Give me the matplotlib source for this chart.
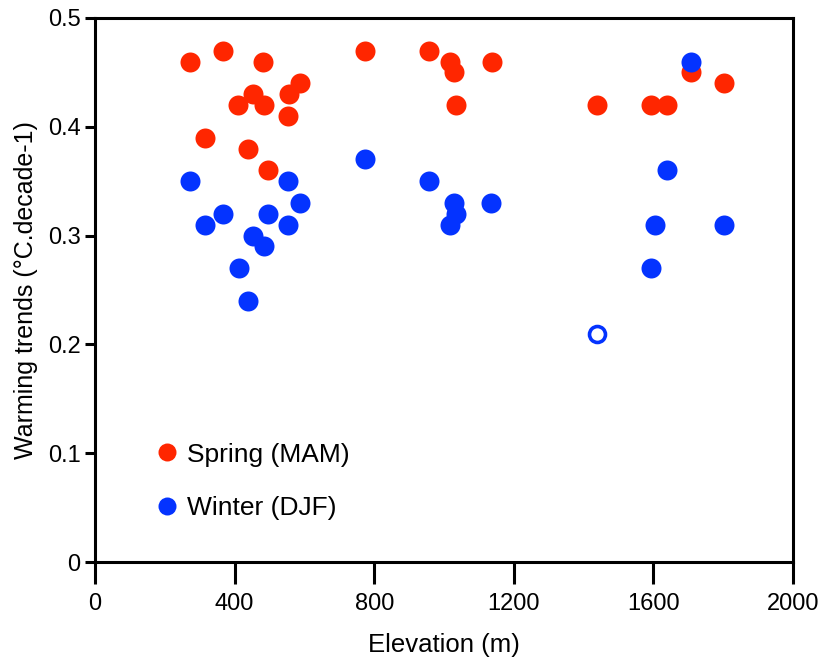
import matplotlib
matplotlib.use("Agg")
import matplotlib.pyplot as plt

plt.rcParams['font.family'] = ['Liberation Sans', 'DejaVu Sans']

# Spring (MAM) warming trends by station elevation
spring_elev = [272, 315, 366, 411, 437, 454, 481, 484, 496, 552, 555, 587,
               774, 957, 1017, 1029, 1034, 1137, 1438, 1592, 1638, 1708, 1803]
spring_trend = [0.46, 0.39, 0.47, 0.42, 0.38, 0.43, 0.46, 0.42, 0.36, 0.41, 0.43, 0.44,
                0.47, 0.47, 0.46, 0.45, 0.42, 0.46, 0.42, 0.42, 0.42, 0.45, 0.44]

# Winter (DJF) warming trends by station elevation
winter_elev = [272, 315, 366, 412, 437, 454, 483, 496, 552, 554, 587,
               774, 957, 1017, 1029, 1034, 1136, 1594, 1605, 1638, 1708, 1803]
winter_trend = [0.35, 0.31, 0.32, 0.27, 0.24, 0.30, 0.29, 0.32, 0.31, 0.35, 0.33,
                0.37, 0.35, 0.31, 0.33, 0.32, 0.33, 0.27, 0.31, 0.36, 0.46, 0.31]

# Winter station shown as an open marker
winter_open_elev = [1437]
winter_open_trend = [0.21]

RED = '#FF2600'
BLUE = '#0433FF'

fig = plt.figure(figsize=(8.23, 6.64), dpi=100)
ax = fig.add_axes([0.1154, 0.1536, 0.8482, 0.8193])

ms = 14.4
ax.plot(spring_elev, spring_trend, 'o', color=RED, markersize=ms,
        markeredgewidth=0, label='Spring (MAM)', zorder=3)
ax.plot(winter_elev, winter_trend, 'o', color=BLUE, markersize=ms,
        markeredgewidth=0, label='Winter (DJF)', zorder=4)
ax.plot(winter_open_elev, winter_open_trend, 'o', markerfacecolor='white',
        markeredgecolor=BLUE, markersize=11.5, markeredgewidth=2.6, zorder=4)

ax.set_xlim(0, 2000)
ax.set_ylim(0, 0.5)
ax.set_xticks([0, 400, 800, 1200, 1600, 2000])
ax.set_yticks([0, 0.1, 0.2, 0.3, 0.4, 0.5])
ax.set_yticklabels(['0', '0.1', '0.2', '0.3', '0.4', '0.5'])

for s in ax.spines.values():
    s.set_linewidth(2.2)
ax.tick_params(axis='x', direction='out', length=16, width=2.2, labelsize=17, pad=6)
ax.tick_params(axis='y', direction='out', length=7.5, width=2.2, labelsize=17, pad=3)

ax.set_xlabel('Elevation (m)', fontsize=18.5, labelpad=13)
ax.set_ylabel('Warming trends (°C.decade-1)', fontsize=18, labelpad=7)

ax.legend(loc='lower left', bbox_to_anchor=(0.047, 0.034), frameon=False,
          fontsize=19, handletextpad=0.15, labelspacing=1.1, markerscale=0.9,
          handlelength=1.2)

fig.savefig('out.png', dpi=100)
